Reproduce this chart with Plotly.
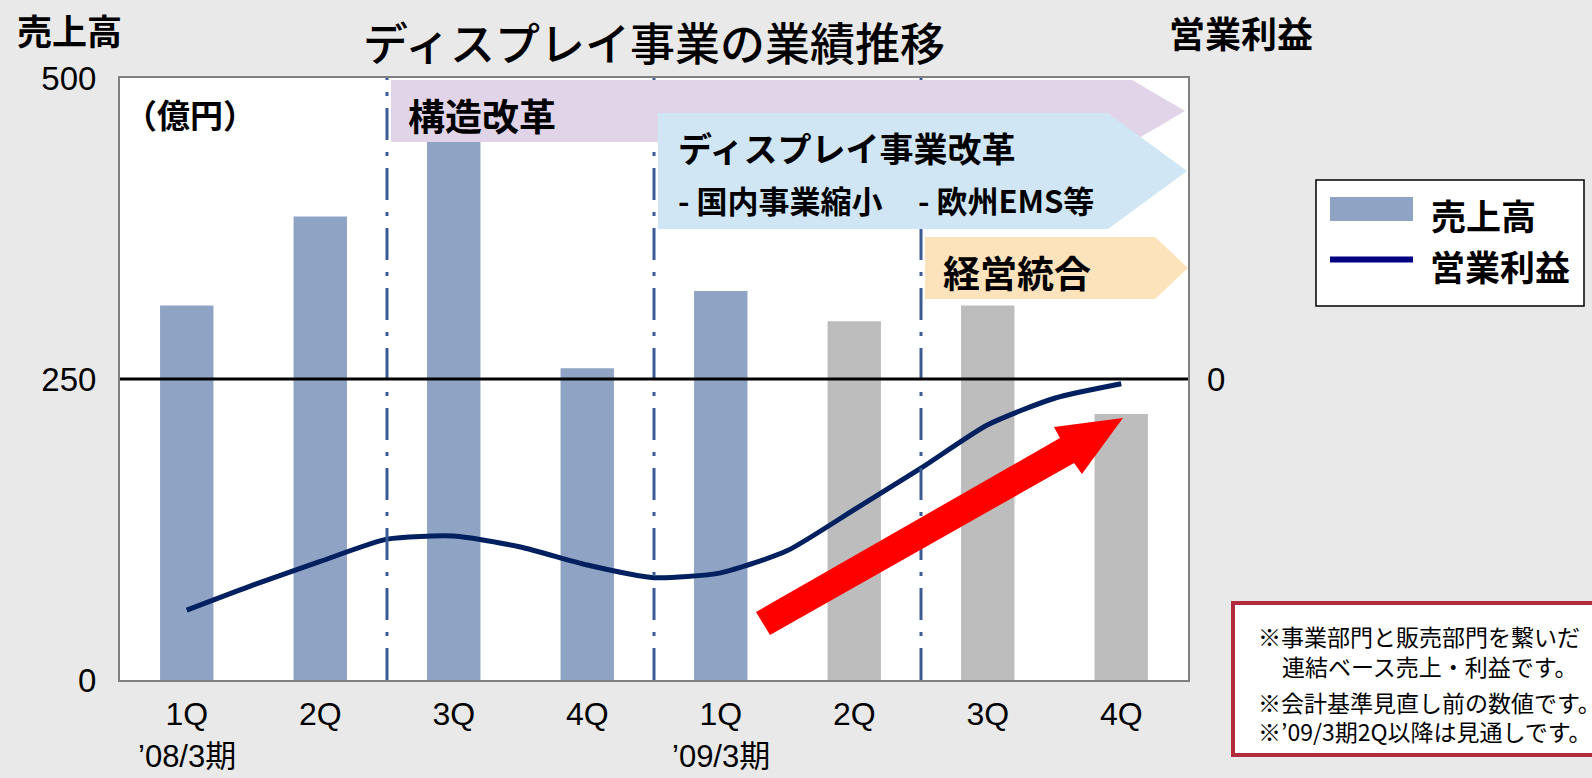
import plotly.graph_objects as go

# data
quarters = ["1Q", "2Q", "3Q", "4Q", "1Q", "2Q", "3Q", "4Q"]
periods = ["’08/3期", "’09/3期"]
sales = [311, 385, 460, 259, 323, 298, 311, 221]          # 売上高 (億円)
is_forecast = [False, False, False, False, False, True, True, True]
profit_pos = [0, 0.5, 1, 1.5, 2, 2.5, 3, 3.5, 4, 4.5, 5, 5.5, 6, 6.5, 7]
profit = [-38.4, -34.2, -30.3, -26.6, -26.1, -27.9, -30.9, -33.0,
          -32.2, -28.5, -21.7, -14.8, -7.6, -3.2, -0.8]     # 営業利益
phase_breaks = [1.5, 3.5, 5.5]
notes = [
    "※事業部門と販売部門を繋いだ",
    "連結ベース売上・利益です。",
    "※会計基準見直し前の数値です。",
    "※’09/3期2Q以降は見通しです。",
]

BLUE = "#8fa3c4"
GRAY = "#bdbdbd"
NAVY = "#002060"
BG = "#e9e9e9"
FONT = "Liberation Sans, Noto Sans CJK JP, sans-serif"
JP = "Noto Sans CJK JP, sans-serif"

W, H = 1592, 778
PL, PR, PT, PB = 120, 1188, 78, 680


def px(x):
    return (x - PL) / (PR - PL)


def py(y):
    return (PB - y) / (PB - PT)


def poly(points):
    return "M " + " L ".join(f"{px(x):.4f},{py(y):.4f}" for x, y in points) + " Z"


fig = go.Figure()

fig.add_trace(go.Bar(
    x=list(range(len(sales))),
    y=sales,
    marker=dict(color=[GRAY if f else BLUE for f in is_forecast], line=dict(width=0)),
    width=0.4,
    name="売上高",
    showlegend=False,
))

fig.add_trace(go.Scatter(
    x=profit_pos,
    y=profit,
    mode="lines",
    line=dict(color=NAVY, width=5, shape="spline", smoothing=0.6),
    yaxis="y2",
    name="営業利益",
    showlegend=False,
))

shapes = []
# phase separators
for b in phase_breaks:
    shapes.append(dict(type="line", xref="x", yref="paper", x0=b, x1=b, y0=0, y1=1,
                       line=dict(color="#3b5b94", width=3, dash="32px,12px,4px,12px"),
                       layer="above"))
# zero line of operating profit
shapes.append(dict(type="line", xref="paper", yref="y2", x0=0, x1=1, y0=0, y1=0,
                   line=dict(color="black", width=3), layer="above"))
# red trend arrow
shapes.append(dict(type="path", xref="paper", yref="paper",
                   path=poly([(756, 612), (1060, 438), (1054, 427), (1123, 418),
                              (1082, 474), (1074, 463), (770, 635)]),
                   fillcolor="#ff0000", line=dict(width=0), layer="above"))
# banners
shapes.append(dict(type="path", xref="paper", yref="paper",
                   path=poly([(391, 80), (1132, 80), (1185, 111), (1132, 142), (391, 142)]),
                   fillcolor="#e1d3e8", line=dict(width=0), layer="above"))
shapes.append(dict(type="path", xref="paper", yref="paper",
                   path=poly([(658, 113), (1108, 113), (1187, 171), (1108, 229), (658, 229)]),
                   fillcolor="#d0e6f5", line=dict(width=0), layer="above"))
shapes.append(dict(type="path", xref="paper", yref="paper",
                   path=poly([(925, 237), (1155, 237), (1188, 268), (1155, 299), (925, 299)]),
                   fillcolor="#fde3bb", line=dict(width=0), layer="above"))
# legend box
shapes.append(dict(type="rect", xref="paper", yref="paper",
                   x0=px(1316), x1=px(1584), y0=py(180), y1=py(306),
                   fillcolor="white", line=dict(color="black", width=1.5)))
shapes.append(dict(type="rect", xref="paper", yref="paper",
                   x0=px(1330), x1=px(1413), y0=py(197), y1=py(221),
                   fillcolor=BLUE, line=dict(width=0)))
shapes.append(dict(type="line", xref="paper", yref="paper",
                   x0=px(1330), x1=px(1413), y0=py(259.5), y1=py(259.5),
                   line=dict(color="#000080", width=6)))
# note box
shapes.append(dict(type="rect", xref="paper", yref="paper",
                   x0=px(1233), x1=px(1610), y0=py(603), y1=py(755),
                   fillcolor="white", line=dict(color="#b02c3c", width=4)))

annotations = []


def text(x, y, s, size, bold=False, anchor="left", family=JP, color="black"):
    annotations.append(dict(xref="paper", yref="paper", x=px(x), y=py(y), text=s,
                            showarrow=False, xanchor=anchor, yanchor="middle",
                            font=dict(family=family, size=size, color=color,
                                      weight="bold" if bold else "normal")))


text(15, 30, "売上高", 35, bold=True)
text(1167, 32, "営業利益", 36, bold=True)
text(122, 114, "（億円）", 33, bold=True)
text(406, 115, "構造改革", 37, bold=True)
text(676, 147, "ディスプレイ事業改革", 34, bold=True)
text(676, 199, "- 国内事業縮小", 31, bold=True)
text(916, 199, "- 欧州EMS等", 31, bold=True)
text(941, 272, "経営統合", 37, bold=True)
text(1429, 214, "売上高", 35, bold=True)
text(1428, 265, "営業利益", 35, bold=True)
for (nx, ny), s in zip([(1256, 636), (1280, 666), (1256, 702), (1256, 731)], notes):
    text(nx, ny, s, 23)

for i, p in enumerate(periods):
    annotations.append(dict(xref="x", yref="paper", x=i * 4, y=py(756), text=p,
                            showarrow=False, xanchor="center", yanchor="middle",
                            font=dict(family=FONT, size=31, color="black")))

fig.update_layout(
    width=W,
    height=H,
    paper_bgcolor=BG,
    plot_bgcolor="white",
    margin=dict(l=PL, r=W - PR, t=PT, b=H - PB),
    title=dict(text="ディスプレイ事業の業績推移", x=654 / W, xanchor="center",
               y=1 - 45 / H, yanchor="middle",
               font=dict(family=JP, size=45, color="black", weight=500)),
    font=dict(family=FONT, color="black"),
    xaxis=dict(
        range=[-0.5, 7.5],
        tickvals=list(range(len(quarters))),
        ticktext=quarters,
        tickfont=dict(size=32),
        ticks="",
        ticklabelstandoff=5,
        showgrid=False,
        zeroline=False,
        showline=True,
        linecolor="#808080",
        linewidth=2,
        mirror=True,
    ),
    yaxis=dict(
        range=[0, 500],
        tickvals=[0, 250, 500],
        tickfont=dict(size=33),
        ticks="",
        ticklabelstandoff=15,
        showgrid=False,
        zeroline=False,
        showline=True,
        linecolor="#808080",
        linewidth=2,
        mirror=True,
    ),
    yaxis2=dict(
        range=[-50, 50],
        tickvals=[0],
        tickfont=dict(size=33),
        overlaying="y",
        side="right",
        ticks="",
        ticklabelstandoff=18,
        showgrid=False,
        zeroline=False,
    ),
    shapes=shapes,
    annotations=annotations,
    bargap=0.6,
)

fig.write_html(
    "out.html",
    config={"displayModeBar": False},
    post_script="document.body.style.margin='0';document.body.style.background='#e9e9e9';",
)
